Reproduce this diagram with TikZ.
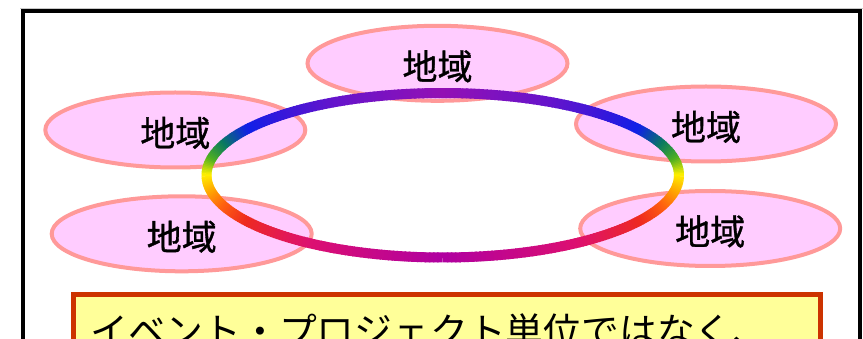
\documentclass[tikz,border=0pt]{standalone}
\usepackage{fontspec}
\usetikzlibrary{shapes.geometric}
\newfontfamily\jp{Noto Sans CJK JP}
\newfontfamily\jpb[FakeBold=1]{Noto Sans CJK JP}
\definecolor{ellfill}{HTML}{FFCCFF}
\definecolor{elldraw}{HTML}{FF9999}
\definecolor{boxfill}{HTML}{FFFF99}
\definecolor{boxdraw}{HTML}{CC3300}
\definecolor{edgegray}{HTML}{C8C8C8}
\definecolor{c0}{HTML}{9410B4}
\definecolor{c1}{HTML}{6414CC}
\definecolor{c2}{HTML}{3018DC}
\definecolor{c3}{HTML}{1020E8}
\definecolor{c4}{HTML}{0A7A60}
\definecolor{c5}{HTML}{50B020}
\definecolor{c6}{HTML}{FFF000}
\definecolor{c7}{HTML}{FFAA00}
\definecolor{c8}{HTML}{FF6010}
\definecolor{c9}{HTML}{EE2A20}
\definecolor{c10}{HTML}{DD1070}
\definecolor{c11}{HTML}{B000A0}
\tikzset{
  region/.style={ellipse, draw=elldraw, fill=ellfill, line width=4pt,
    minimum width=260pt, minimum height=75pt, inner sep=0pt},
  regiontext/.style={font=\jpb\fontsize{35pt}{40pt}\selectfont, inner sep=0pt},
  notebox/.style={draw=boxdraw, fill=boxfill, line width=5pt, inner sep=0pt,
    minimum width=746.7pt, minimum height=120pt, anchor=north west},
  notetext/.style={font=\jp\fontsize{37.8pt}{44pt}\selectfont, inner sep=0pt, anchor=base west},
  ringseg/.style={line width=10pt}
}
\begin{document}
\begin{tikzpicture}[x=1pt,y=-1pt]
\useasboundingbox (0,0) rectangle (863,339);
\clip (0,0) rectangle (863,339);
% outer frame
\draw[edgegray, line width=1pt] (20,8.5) -- (863,8.5);
\draw[black, line width=4pt] (23.3,11.5) rectangle (860,420);
% regions
\node[region] (r1) at (437.5,63.3) {};
\node[region] (r2) at (175.3,130) {};
\node[region] (r3) at (181.7,233.8) {};
\node[region] (r4) at (706,124) {};
\node[region] (r5) at (710.2,228.5) {};
% rainbow ring
\def\cx{442.75}\def\cy{175.25}\def\rx{236.25}\def\ry{82.25}
\foreach \pa/\pb/\ca/\cb in {0/28/c0/c1, 28/45/c1/c2, 45/56/c2/c3, 56/68/c3/c4,
    68/79/c4/c5, 79/90/c5/c6, 90/101/c6/c7, 101/112/c7/c8, 112/124/c8/c9,
    124/146/c9/c10, 146/180/c10/c11}{
  \pgfmathtruncatemacro\n{\pb-\pa-1}
  \foreach \k in {0,...,\n}{
    \pgfmathsetmacro\fr{(\k+0.5)/(\pb-\pa)*100}
    \pgfmathsetmacro\pha{\pa+\k-0.35}
    \pgfmathsetmacro\phb{\pa+\k+1}
    \draw[ringseg, color=\cb!\fr!\ca]
      ({\cx+\rx*cos(270-\pha)},{\cy+\ry*sin(270-\pha)}) --
      ({\cx+\rx*cos(270-\phb)},{\cy+\ry*sin(270-\phb)});
    \draw[ringseg, color=\cb!\fr!\ca]
      ({\cx+\rx*cos(270+\pha)},{\cy+\ry*sin(270+\pha)}) --
      ({\cx+\rx*cos(270+\phb)},{\cy+\ry*sin(270+\phb)});
  }
}
% region labels
\node[regiontext] (t1) at ([yshift=-3pt]r1.center) {地域};
\node[regiontext] (t2) at ([yshift=-3pt]r2.center) {地域};
\node[regiontext] (t3) at ([yshift=-3pt]r3.center) {地域};
\node[regiontext] (t4) at ([yshift=-3pt]r4.center) {地域};
\node[regiontext] (t5) at ([yshift=-3pt]r5.center) {地域};
% note box
\node[notebox] (note) at (70.8,292.5) {};
\node[notetext] (notetxt) at (90,345) {イベント・プロジェクト単位ではなく、};
\end{tikzpicture}
\end{document}
